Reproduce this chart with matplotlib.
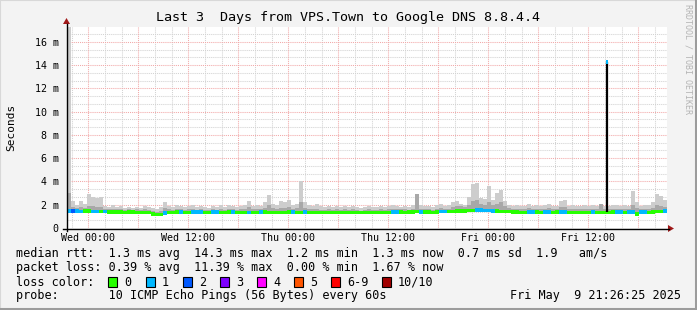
import matplotlib
matplotlib.use("Agg")
import matplotlib.pyplot as plt
from matplotlib.patches import Rectangle, Polygon
from matplotlib.lines import Line2D
import numpy as np

W, H, DPI = 697, 310, 100
MONO = "DejaVu Sans Mono"

# ---------------- data ----------------
title = "Last 3  Days from VPS.Town to Google DNS 8.8.4.4"
y_label = "Seconds"
watermark = "RRDTOOL / TOBI OETIKER"

x_tick_hours = [0, 12, 24, 36, 48, 60]
x_tick_labels = ["Wed 00:00", "Wed 12:00", "Thu 00:00", "Thu 12:00", "Fri 00:00", "Fri 12:00"]
y_tick_values = [0, 2, 4, 6, 8, 10, 12, 14, 16]
y_tick_labels = ["0", "2 m", "4 m", "6 m", "8 m", "10 m", "12 m", "14 m", "16 m"]

start_hour = -2.57      # hours relative to Wed 00:00
end_hour = 69.43
sample_hours = 0.48
y_top_ms = 17.29

median_ms = [
    1.48, 1.45, 1.47, 1.44, 1.45, 1.46, 1.42, 1.44, 1.42, 1.40,
    1.38, 1.36, 1.38, 1.36, 1.35, 1.37, 1.36, 1.34, 1.35, 1.33,
    1.32, 1.20, 1.16, 1.18, 1.30, 1.33, 1.32, 1.38, 1.36, 1.34,
    1.33, 1.37, 1.38, 1.36, 1.33, 1.34, 1.37, 1.36, 1.34, 1.33,
    1.36, 1.37, 1.34, 1.33, 1.34, 1.35, 1.33, 1.34, 1.36, 1.37,
    1.35, 1.34, 1.33, 1.35, 1.34, 1.36, 1.38, 1.35, 1.34, 1.37,
    1.34, 1.33, 1.35, 1.34, 1.33, 1.34, 1.35, 1.33, 1.34, 1.33,
    1.34, 1.33, 1.35, 1.34, 1.33, 1.34, 1.33, 1.35, 1.34, 1.33,
    1.34, 1.37, 1.38, 1.36, 1.35, 1.36, 1.38, 1.40, 1.37, 1.39,
    1.36, 1.35, 1.38, 1.40, 1.42, 1.41, 1.43, 1.45, 1.46, 1.48,
    1.50, 1.52, 1.55, 1.54, 1.52, 1.50, 1.48, 1.46, 1.44, 1.42,
    1.40, 1.38, 1.36, 1.35, 1.34, 1.37, 1.38, 1.36, 1.34, 1.37,
    1.38, 1.35, 1.37, 1.38, 1.36, 1.34, 1.33, 1.35, 1.34, 1.33,
    1.34, 1.37, 1.35, 1.34, 1.35, 1.34, 1.36, 1.37, 1.38, 1.34,
    1.37, 1.38, 1.22, 1.36, 1.37, 1.35, 1.36, 1.40, 1.42, 1.45,
]

loss_count = [
    1, 2, 1, 1, 0, 0, 1, 1, 0, 1,
    0, 0, 0, 0, 0, 0, 0, 0, 0, 0,
    0, 0, 0, 0, 1, 0, 0, 0, 1, 0,
    0, 1, 1, 1, 0, 0, 1, 1, 0, 0,
    0, 1, 0, 0, 0, 1, 0, 0, 1, 0,
    0, 0, 0, 0, 0, 0, 1, 0, 0, 1,
    0, 0, 0, 0, 0, 0, 0, 0, 0, 0,
    0, 0, 0, 0, 0, 0, 0, 0, 0, 0,
    0, 1, 1, 0, 0, 0, 0, 0, 1, 0,
    0, 0, 0, 1, 1, 0, 0, 0, 0, 0,
    0, 0, 1, 1, 1, 1, 1, 0, 0, 0,
    0, 0, 0, 0, 0, 1, 1, 0, 0, 1,
    1, 0, 0, 1, 1, 0, 0, 0, 0, 0,
    0, 1, 0, 0, 0, 0, 0, 1, 1, 0,
    1, 1, 0, 1, 1, 0, 0, 0, 0, 1,
]

smoke_max_ms = [
    17.5, 2.3, 2.0, 2.3, 2.1, 2.9, 2.7, 2.6, 2.7, 1.9,
    1.8, 2.0, 1.8, 1.9, 1.7, 1.8, 1.7, 1.8, 1.7, 1.9,
    1.8, 1.7, 1.6, 1.8, 2.2, 1.9, 1.8, 2.0, 1.9, 1.8,
    1.9, 2.0, 1.8, 1.9, 1.8, 1.7, 1.9, 1.8, 2.0, 1.8,
    2.0, 1.9, 1.8, 1.9, 2.0, 2.35, 1.9, 2.0, 1.9, 2.2,
    2.8, 2.1, 2.0, 2.3, 2.2, 2.4, 2.0, 2.1, 4.0, 2.2,
    2.0, 1.9, 2.1, 1.9, 1.8, 1.9, 1.8, 1.9, 1.8, 1.9,
    1.8, 1.9, 1.8, 1.7, 1.8, 1.9, 1.8, 1.8, 1.9, 1.8,
    1.9, 2.0, 1.9, 1.8, 1.9, 1.8, 2.0, 2.9, 2.0, 1.9,
    1.9, 1.8, 2.0, 2.1, 1.9, 2.0, 2.2, 2.3, 2.1, 2.0,
    2.7, 3.8, 3.9, 2.6, 2.5, 3.6, 2.4, 3.0, 3.3, 2.3,
    2.0, 1.9, 2.0, 1.9, 1.9, 2.1, 1.9, 2.0, 1.9, 2.0,
    2.1, 1.9, 1.9, 2.3, 2.4, 1.9, 2.0, 1.9, 1.9, 2.0,
    1.9, 2.0, 1.9, 2.1, 1.9, 1.9, 2.0, 2.0, 1.9, 2.0,
    1.9, 3.2, 2.2, 1.9, 2.0, 2.0, 2.2, 2.9, 2.75, 2.4,
]

smoke_mid_ms = [
    3.0, 1.8, 1.7, 1.8, 1.7, 1.9, 1.9, 1.8, 1.8, 1.6,
    1.6, 1.6, 1.6, 1.6, 1.55, 1.6, 1.55, 1.6, 1.55, 1.6,
    1.55, 1.45, 1.4, 1.45, 1.7, 1.6, 1.55, 1.6, 1.6, 1.55,
    1.6, 1.6, 1.55, 1.6, 1.55, 1.55, 1.6, 1.55, 1.6, 1.55,
    1.6, 1.6, 1.55, 1.6, 1.6, 1.8, 1.6, 1.6, 1.6, 1.7,
    2.0, 1.7, 1.6, 1.7, 1.7, 1.8, 1.6, 1.7, 2.2, 1.7,
    1.6, 1.6, 1.6, 1.55, 1.55, 1.6, 1.55, 1.6, 1.55, 1.6,
    1.55, 1.6, 1.55, 1.5, 1.55, 1.6, 1.55, 1.55, 1.6, 1.55,
    1.6, 1.65, 1.6, 1.6, 1.6, 1.55, 1.65, 2.9, 1.65, 1.6,
    1.6, 1.55, 1.65, 1.7, 1.6, 1.65, 1.8, 1.9, 1.9, 1.8,
    2.0, 2.3, 2.4, 2.1, 2.0, 2.2, 2.0, 2.1, 2.2, 1.9,
    1.7, 1.6, 1.6, 1.6, 1.6, 1.7, 1.6, 1.6, 1.6, 1.65,
    1.7, 1.6, 1.6, 1.8, 1.8, 1.6, 1.6, 1.6, 1.6, 1.6,
    1.6, 1.65, 1.6, 2.1, 1.6, 1.6, 1.6, 1.65, 1.6, 1.6,
    1.6, 2.0, 1.7, 1.6, 1.6, 1.6, 1.7, 2.0, 1.9, 1.8,
]

spike_hour = [62.23]
spike_base_ms = [1.36]
spike_ms = [14.3]
spike_loss = [1]

loss_labels = ["0", "1", "2", "3", "4", "5", "6-9", "10/10"]
loss_colors = ["#26ff00", "#00b8ff", "#0059ff", "#7e00ff", "#ff00ff", "#ff5500", "#ff0000", "#a10000"]

legend_rows = [
    "median rtt:  1.3 ms avg  14.3 ms max  1.2 ms min  1.3 ms now  0.7 ms sd  1.9   am/s",
    "packet loss: 0.39 % avg  11.39 % max  0.00 % min  1.67 % now",
    "loss color:",
    "probe:       10 ICMP Echo Pings (56 Bytes) every 60s",
]
timestamp = "Fri May  9 21:26:25 2025"

# ---------------- figure ----------------
fig = plt.figure(figsize=(W / DPI, H / DPI), dpi=DPI)
fig.patch.set_facecolor("#f3f3f3")

def fx(x):
    return x / W

def fy(y):
    return 1 - y / H

# border (3D-like frame)
fig.add_artist(Rectangle((0, 0), 1, 1, transform=fig.transFigure, fill=False,
                         edgecolor="#d8d8d8", lw=1.5))
fig.add_artist(Line2D([fx(0), fx(697)], [fy(309), fy(309)], transform=fig.transFigure,
                      color="#9c9c9c", lw=2.2))
fig.add_artist(Line2D([fx(696), fx(696)], [fy(0), fy(310)], transform=fig.transFigure,
                      color="#9c9c9c", lw=2.2))

PX_L, PX_R, PX_T, PX_B = 67, 667, 27, 228
ax = fig.add_axes([fx(PX_L), fy(PX_B), (PX_R - PX_L) / W, (PX_B - PX_T) / H])
ax.set_facecolor("white")
ax.set_xlim(start_hour, end_hour)
ax.set_ylim(0, y_top_ms)
for s in ax.spines.values():
    s.set_visible(False)

# grid
dot = (0, (1, 1))
for h in np.arange(-2, end_hour, 2):
    if h % 6 == 0:
        continue
    ax.axvline(h, color="#d2d2d2", lw=0.75, ls=dot, zorder=0)
for h in np.arange(0, end_hour, 6):
    ax.axvline(h, color="#f2a8a8", lw=0.75, ls=dot, zorder=0.5)
for v in np.arange(2 / 3, y_top_ms, 2 / 3):
    if abs(v / 2 - round(v / 2)) < 1e-6:
        continue
    ax.axhline(v, color="#d2d2d2", lw=0.75, ls=dot, zorder=0)
for v in y_tick_values[1:]:
    ax.axhline(v, color="#f2a8a8", lw=0.75, ls=dot, zorder=0.5)

# smoke + median
n = len(median_ms)
xs = start_hour + sample_hours * np.arange(n)
med = np.array(median_ms)
ax.bar(xs, np.array(smoke_max_ms) - med, bottom=med, width=sample_hours, align="edge",
       color="#cdcdcd", lw=0, zorder=2)
ax.bar(xs, np.array(smoke_mid_ms) - med, bottom=med, width=sample_hours, align="edge",
       color="#a8a8a8", lw=0, zorder=3)
thick = 3.5 / ((PX_B - PX_T) / y_top_ms)
ax.bar(xs, thick, bottom=med - thick / 2, width=sample_hours, align="edge",
       color=[loss_colors[c] for c in loss_count], lw=0, zorder=4)

# spike
ax.vlines(spike_hour, spike_base_ms, spike_ms, color="black", lw=1.6, zorder=5)
ax.bar(spike_hour, thick, bottom=np.array(spike_ms) - thick / 2, width=0.22, align="center",
       color=[loss_colors[c] for c in spike_loss], lw=0, zorder=6)

# ticks
ax.set_xticks(x_tick_hours)
ax.set_xticklabels(x_tick_labels, fontfamily=MONO, fontsize=7.2)
ax.set_yticks(y_tick_values)
ax.set_yticklabels(y_tick_labels, fontfamily=MONO, fontsize=7.2)
ax.tick_params(axis="x", length=0, pad=3.6)
ax.tick_params(axis="y", length=0, pad=6.0)

# axes lines with arrows
axis_red = "#a01818"
fig.add_artist(Line2D([fx(66.5), fx(66.5)], [fy(231), fy(24)], transform=fig.transFigure,
                      color="black", lw=1.0))
fig.add_artist(Polygon([[fx(63), fy(24)], [fx(70), fy(24)], [fx(66.5), fy(18)]],
                       closed=True, transform=fig.transFigure, color=axis_red, lw=0))
fig.add_artist(Line2D([fx(63), fx(669)], [fy(228.5), fy(228.5)], transform=fig.transFigure,
                      color="black", lw=1.0))
fig.add_artist(Polygon([[fx(668), fy(225)], [fx(668), fy(232)], [fx(674), fy(228.5)]],
                       closed=True, transform=fig.transFigure, color=axis_red, lw=0))

# texts
fig.text(fx(348.5), fy(18), title, ha="center", va="center", fontfamily=MONO, fontsize=9.6)
fig.text(fx(11), fy(127), y_label, ha="center", va="center", rotation=90,
         fontfamily=MONO, fontsize=8)
fig.text(fx(688), fy(4), watermark, ha="center", va="top", rotation=270,
         fontfamily=MONO, fontsize=6, color="#b4b4b4")

row_y = [254, 268, 282, 296]
for txt, yy in zip(legend_rows, row_y):
    fig.text(fx(16), fy(yy), txt, ha="left", va="center", fontfamily=MONO, fontsize=8.5)
fig.text(fx(681), fy(row_y[3]), timestamp, ha="right", va="center", fontfamily=MONO, fontsize=8.5)

sw_x = [108, 146, 183, 220, 257, 294, 331, 382]
for xx, lab, col in zip(sw_x, loss_labels, loss_colors):
    fig.add_artist(Rectangle((fx(xx), fy(row_y[2] + 5)), 9 / W, 10 / H, transform=fig.transFigure,
                             facecolor=col, edgecolor="black", lw=0.8))
    fig.text(fx(xx + 16), fy(row_y[2]), lab, ha="left", va="center", fontfamily=MONO, fontsize=8.5)

fig.savefig("out.png", dpi=DPI, facecolor=fig.get_facecolor())
